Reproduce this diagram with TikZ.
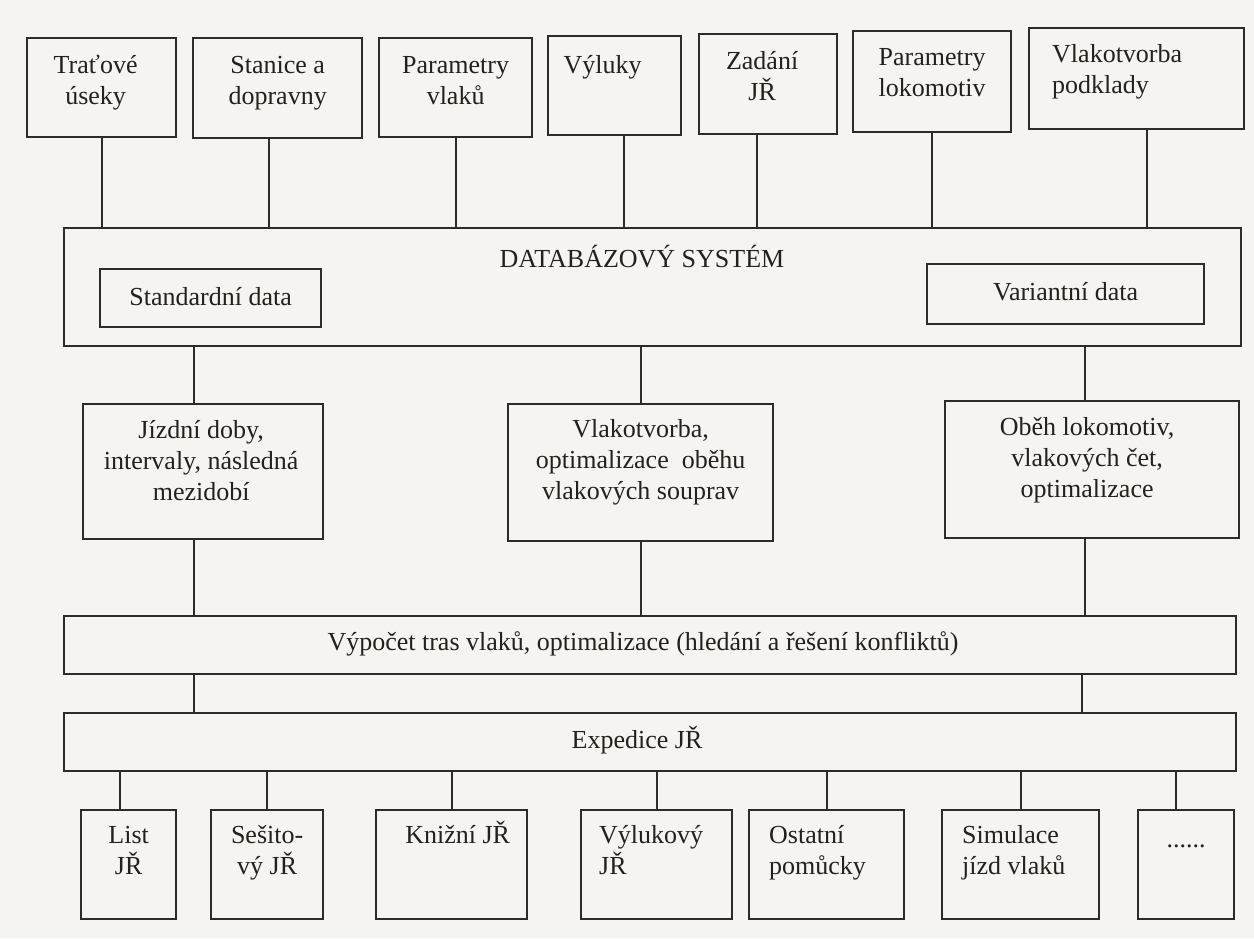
\documentclass[tikz,border=0pt]{standalone}
\usepackage{fontspec}
\setmainfont{Liberation Serif}
\definecolor{ink}{HTML}{2F2A25}
\definecolor{inktext}{HTML}{25201C}
\definecolor{paper}{HTML}{F5F4F0}
\begin{document}
\begin{tikzpicture}[x=1pt,y=-1pt,
  box/.style={draw=ink, line width=2.3pt, inner sep=0pt, anchor=north west},
  txt/.style={text=inktext, font=\fontsize{26}{31}\selectfont, inner sep=0pt, align=center, anchor=base},
  txtl/.style={txt, align=left, anchor=base west},
  conn/.style={draw=ink, line width=2.3pt}]
\fill[paper] (0,0) rectangle (1254,938);
\useasboundingbox (0,0) rectangle (1254,938);

% top row
\node[box, minimum width=149pt, minimum height=99pt] (t1) at (26,37) {};
\node[box, minimum width=169pt, minimum height=100pt] (t2) at (192,37) {};
\node[box, minimum width=153pt, minimum height=99pt] (t3) at (378,37) {};
\node[box, minimum width=133pt, minimum height=99pt] (t4) at (547,35) {};
\node[box, minimum width=138pt, minimum height=100pt] (t5) at (698,33) {};
\node[box, minimum width=158pt, minimum height=101pt] (t6) at (852,30) {};
\node[box, minimum width=215pt, minimum height=101pt] (t7) at (1028,27) {};

% multi-line text: base anchor is the baseline of the last line
\node[txt] (t1t) at ([xshift=-6pt,yshift=-67pt]t1.north) {Traťové\\úseky};
\node[txt] (t2t) at ([yshift=-67pt]t2.north) {Stanice a\\dopravny};
\node[txt] (t3t) at ([yshift=-67pt]t3.north) {Parametry\\vlaků};
\node[txt] (t4t) at ([xshift=-12pt,yshift=-38pt]t4.north) {Výluky};
\node[txt] (t5t) at ([xshift=-6pt,yshift=-67pt]t5.north) {Zadání\\JŘ};
\node[txt] (t6t) at ([yshift=-66pt]t6.north) {Parametry\\lokomotiv};
\node[txtl] (t7t) at ([xshift=24pt,yshift=-66pt]t7.north west) {Vlakotvorba\\podklady};

% database
\node[box, minimum width=1177pt, minimum height=118pt] (db) at (63,227) {};
\node[txt] (dbt) at (642,267) {DATABÁZOVÝ SYSTÉM};
\node[box, minimum width=221pt, minimum height=58pt] (sd) at (99,268) {};
\node[txt] (sdt) at ([yshift=-37pt]sd.north) {Standardní data};
\node[box, minimum width=277pt, minimum height=60pt] (vd) at (926,263) {};
\node[txt] (vdt) at ([yshift=-37pt]vd.north) {Variantní data};

\draw[conn] (t1.south) -- (t1.south |- db.north);
\draw[conn] ([xshift=-9pt]t2.south) -- ([xshift=-9pt]t2.south |- db.north);
\draw[conn] (t3.south) -- (t3.south |- db.north);
\draw[conn] ([xshift=9pt]t4.south) -- ([xshift=9pt]t4.south |- db.north);
\draw[conn] ([xshift=-11pt]t5.south) -- ([xshift=-11pt]t5.south |- db.north);
\draw[conn] (t6.south) -- (t6.south |- db.north);
\draw[conn] ([xshift=10pt]t7.south) -- ([xshift=10pt]t7.south |- db.north);

% middle row
\node[box, minimum width=240pt, minimum height=135pt] (m1) at (82,403) {};
\node[box, minimum width=265pt, minimum height=137pt] (m2) at (507,403) {};
\node[box, minimum width=294pt, minimum height=137pt] (m3) at (944,400) {};
\node[txt] (m1t) at ([xshift=-2pt,yshift=-97pt]m1.north) {Jízdní doby,\\intervaly, následná\\mezidobí};
\node[txt] (m2t) at ([yshift=-96pt]m2.north) {Vlakotvorba,\\optimalizace\enspace oběhu\\vlakových souprav};
\node[txt] (m3t) at ([xshift=-5pt,yshift=-97pt]m3.north) {Oběh lokomotiv,\\vlakových čet,\\optimalizace};

\draw[conn] ([xshift=-9pt]m1.north |- db.south) -- ([xshift=-9pt]m1.north);
\draw[conn] (m2.north |- db.south) -- (m2.north);
\draw[conn] ([xshift=-7pt]m3.north |- db.south) -- ([xshift=-7pt]m3.north);

% computation
\node[box, minimum width=1172pt, minimum height=58pt] (vyp) at (63,615) {};
\node[txt] (vypt) at (643,650) {Výpočet tras vlaků, optimalizace (hledání a řešení konfliktů)};
\draw[conn] ([xshift=-9pt]m1.south) -- ([xshift=-9pt]m1.south |- vyp.north);
\draw[conn] (m2.south) -- (m2.south |- vyp.north);
\draw[conn] ([xshift=-7pt]m3.south) -- ([xshift=-7pt]m3.south |- vyp.north);

% expedition
\node[box, minimum width=1172pt, minimum height=58pt] (exp) at (63,712) {};
\node[txt] (expt) at (637,748) {Expedice JŘ};
\draw[conn] ([xshift=-9pt]m1.south |- vyp.south) -- ([xshift=-9pt]m1.south |- exp.north);
\draw[conn] ([xshift=-10pt]m3.south |- vyp.south) -- ([xshift=-10pt]m3.south |- exp.north);

% bottom row
\node[box, minimum width=95pt, minimum height=109pt] (b1) at (80,809) {};
\node[box, minimum width=112pt, minimum height=109pt] (b2) at (210,809) {};
\node[box, minimum width=151pt, minimum height=109pt] (b3) at (375,809) {};
\node[box, minimum width=151pt, minimum height=109pt] (b4) at (580,809) {};
\node[box, minimum width=155pt, minimum height=109pt] (b5) at (748,809) {};
\node[box, minimum width=157pt, minimum height=109pt] (b6) at (941,809) {};
\node[box, minimum width=96pt, minimum height=109pt] (b7) at (1137,809) {};

\node[txt] (b1t) at ([yshift=-65pt]b1.north) {List\\JŘ};
\node[txt] (b2t) at ([yshift=-65pt]b2.north) {Sešito-\\vý JŘ};
\node[txt] (b3t) at ([xshift=6pt,yshift=-34pt]b3.north) {Knižní JŘ};
\node[txtl] (b4t) at ([xshift=19pt,yshift=-65pt]b4.north west) {Výlukový\\JŘ};
\node[txtl] (b5t) at ([xshift=21pt,yshift=-65pt]b5.north west) {Ostatní\\pomůcky};
\node[txtl] (b6t) at ([xshift=21pt,yshift=-65pt]b6.north west) {Simulace\\jízd vlaků};
\node[txt] (b7t) at ([yshift=-38pt]b7.north) {......};

\draw[conn] ([xshift=-9pt]b1.north |- exp.south) -- ([xshift=-9pt]b1.north);
\draw[conn] (b2.north |- exp.south) -- (b2.north);
\draw[conn] (b3.north |- exp.south) -- (b3.north);
\draw[conn] (b4.north |- exp.south) -- (b4.north);
\draw[conn] (b5.north |- exp.south) -- (b5.north);
\draw[conn] (b6.north |- exp.south) -- (b6.north);
\draw[conn] ([xshift=-10pt]b7.north |- exp.south) -- ([xshift=-10pt]b7.north);
\end{tikzpicture}
\end{document}
